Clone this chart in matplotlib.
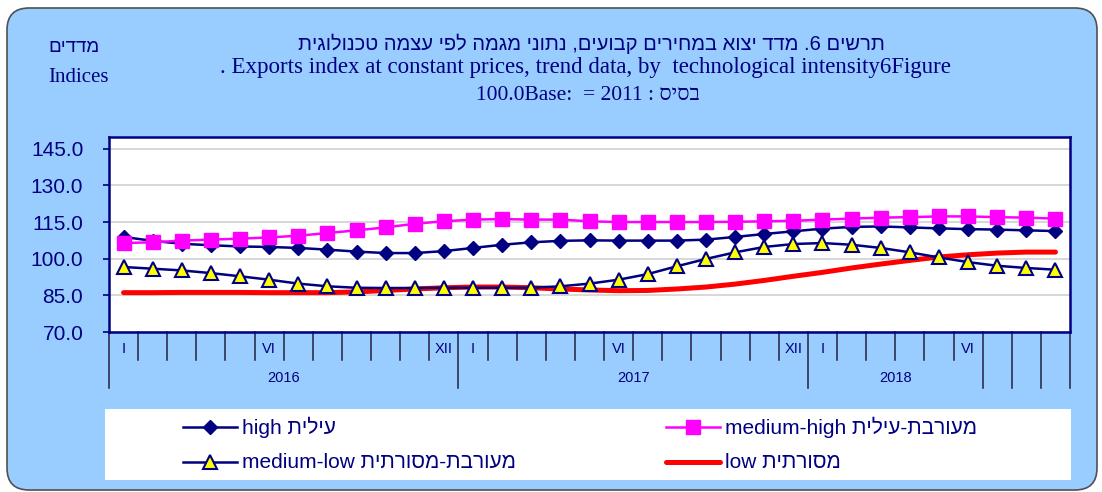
import numpy as np
import matplotlib
matplotlib.use("Agg")
import matplotlib.pyplot as plt
from matplotlib.patches import FancyBboxPatch, Rectangle
from matplotlib.lines import Line2D
from matplotlib.transforms import IdentityTransform, blended_transform_factory

# ---- data (Jan 2016 .. Sep 2018, monthly trend) ----
month_labels = ["I", "", "", "", "", "VI", "", "", "", "", "", "XII",
                "I", "", "", "", "", "VI", "", "", "", "", "", "XII",
                "I", "", "", "", "", "VI", "", "", ""]
year_labels = ["2016", "2017", "2018", "", "", ""]
year_spans = [12, 12, 6, 1, 1, 1]

high = [108.9, 107.3, 106.1, 105.5, 105.0, 104.8, 104.4, 103.7, 102.9, 102.3, 102.3,
        103.1, 104.4, 105.7, 106.7, 107.3, 107.5, 107.4, 107.4, 107.4, 107.8, 108.9,
        110.1, 111.2, 112.3, 113.0, 113.2, 112.8, 112.4, 112.1, 111.9, 111.6, 111.3]
medium_high = [106.4, 106.7, 107.4, 107.8, 108.2, 108.7, 109.4, 110.5, 111.6, 112.8, 114.3,
               115.3, 116.0, 116.2, 116.0, 116.0, 115.3, 115.0, 115.0, 115.0, 115.0, 115.1,
               115.3, 115.5, 116.0, 116.4, 116.8, 117.0, 117.3, 117.3, 117.0, 116.8, 116.4]
medium_low = [96.6, 95.9, 95.2, 94.1, 92.8, 91.4, 89.8, 88.7, 88.1, 88.0, 88.0,
              88.1, 88.1, 88.1, 88.1, 88.7, 89.8, 91.4, 93.7, 96.9, 99.9, 102.6,
              104.8, 106.0, 106.4, 105.7, 104.4, 102.6, 100.5, 98.6, 97.1, 96.2, 95.5]
low = [86.1, 86.1, 86.2, 86.2, 86.2, 86.1, 86.1, 86.1, 86.4, 87.0, 87.6,
       88.1, 88.4, 88.4, 88.1, 87.6, 87.2, 86.9, 87.0, 87.6, 88.4, 89.6,
       91.1, 92.8, 94.4, 96.2, 97.8, 99.3, 100.7, 101.6, 102.3, 102.7, 102.7]

yticks = [70, 85, 100, 115, 130, 145]

NAVY = "#000080"
BLUE_BG = "#99CCFF"
SANS = ["Liberation Sans", "DejaVu Sans"]
SERIF = ["Liberation Serif", "DejaVu Serif"]


def heb(s):
    # matplotlib has no bidi, so hebrew words go in visual order
    return s[::-1]


W, H = 1102, 492
fig = plt.figure(figsize=(W / 100, H / 100), dpi=100)
fig.patch.set_facecolor("white")


def fx(px):
    return px / W


def fy(py):
    return 1 - py / H


# rounded blue frame and white legend panel (pixel coords), behind everything
frame = FancyBboxPatch((7, H - 490), 1090, 482, boxstyle="round,pad=0,rounding_size=22",
                       transform=IdentityTransform(), facecolor=BLUE_BG,
                       edgecolor="#505050", linewidth=1.2, zorder=-3)
fig.add_artist(frame)
fig.add_artist(Rectangle((105, H - 480), 966, 71, transform=IdentityTransform(),
                         facecolor="white", edgecolor="none", zorder=-2))

# titles
fig.text(fx(591), fy(44), heb("תרשים 6. מדד יצוא במחירים קבועים, נתוני מגמה לפי עצמה טכנולוגית"),
         ha="center", va="center", fontsize=14.5, color=NAVY, family=SANS)
fig.text(fx(585), fy(68), ". Exports index at constant prices, trend data, by  technological intensity6Figure",
         ha="center", va="center", fontsize=16.5, color=NAVY, family=SERIF)
fig.text(fx(588), fy(96), "100.0Base:  = 2011 : " + heb("בסיס"),
         ha="center", va="center", fontsize=15.5, color=NAVY, family=SERIF)
fig.text(fx(48), fy(47), heb("מדדים"), ha="left", va="center", fontsize=13.5, color=NAVY, family=SANS)
fig.text(fx(48), fy(77), "Indices", ha="left", va="center", fontsize=15, color=NAVY, family=SERIF)

# main axes
ax = fig.add_axes([fx(109), fy(332), fx(1070) - fx(109), (332 - 136.5) / H])
ax.set_facecolor("white")
x = np.arange(len(month_labels))

ax.plot(x, low, color="#FF0000", lw=3.6, solid_capstyle="round", zorder=3)
ax.plot(x, high, color=NAVY, lw=1.8, marker="D", ms=7, mfc=NAVY, mec=NAVY, zorder=4)
ax.plot(x, medium_low, color=NAVY, lw=1.8, marker="^", ms=10, mfc="#FFFF00", mec=NAVY,
        mew=1.5, zorder=5)
ax.plot(x, medium_high, color="#FF00FF", lw=1.8, marker="s", ms=10, mfc="#FF00FF",
        mec="#FF00FF", zorder=6)

ax.set_xlim(-0.5, len(month_labels) - 0.5)
ax.set_ylim(70, 150)
ax.set_yticks(yticks)
ax.set_yticklabels([f"{v:.1f}" for v in yticks])
ax.tick_params(axis="y", direction="out", length=4.5, width=1.2, color=NAVY,
               labelcolor=NAVY, labelsize=15, pad=14)
for lab in ax.get_yticklabels():
    lab.set_family(SANS)
ax.tick_params(axis="x", bottom=False, labelbottom=False)
ax.yaxis.grid(True, color="#D4D4D4", lw=1.3)
ax.set_axisbelow(True)
for sp in ax.spines.values():
    sp.set_color(NAVY)
    sp.set_linewidth(1.8)

# two-level category axis drawn below the plot
trans = blended_transform_factory(ax.transData, ax.transAxes)
long_edges = set(np.cumsum([0] + year_spans))
for k in range(len(month_labels) + 1):
    y_end = -0.287 if k in long_edges else -0.143
    ax.plot([k - 0.5, k - 0.5], [0, y_end], transform=trans, clip_on=False,
            color="#202040", lw=1.1)
for i, lab in enumerate(month_labels):
    ax.text(i, -0.087, lab, transform=trans, ha="center", va="center",
            fontsize=10.5, color=NAVY, family=SANS)
start = 0
for lab, span in zip(year_labels, year_spans):
    ax.text(start + span / 2 - 0.5, -0.235, lab, transform=trans, ha="center",
            va="center", fontsize=10.5, color=NAVY, family=SANS)
    start += span

# legend
legend_items = [
    (183, 427, dict(color=NAVY, lw=1.8, marker="D", ms=7, mfc=NAVY, mec=NAVY),
     "high " + heb("עילית")),
    (666, 427, dict(color="#FF00FF", lw=1.8, marker="s", ms=10, mfc="#FF00FF", mec="#FF00FF"),
     "medium-high " + heb("מעורבת-עילית")),
    (183, 462, dict(color=NAVY, lw=1.8, marker="^", ms=10, mfc="#FFFF00", mec=NAVY, mew=1.5),
     "medium-low " + heb("מעורבת-מסורתית")),
    (666, 462, dict(color="#FF0000", lw=3.6, solid_capstyle="round"),
     "low " + heb("מסורתית")),
]
for px, py, style, label in legend_items:
    fig.add_artist(Line2D([fx(px), fx(px + 27), fx(px + 54)], [fy(py)] * 3,
                          transform=fig.transFigure, markevery=[1], **style))
    fig.text(fx(px + 59), fy(py), label, ha="left", va="center", fontsize=15,
             color=NAVY, family=SANS)

fig.savefig("out.png", dpi=100, facecolor=fig.get_facecolor())
